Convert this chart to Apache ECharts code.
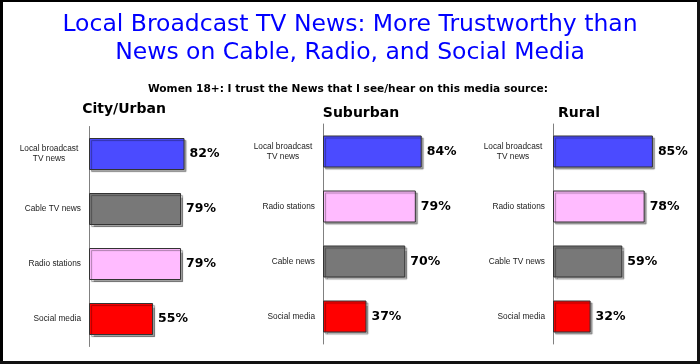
<!DOCTYPE html>
<html>
<head>
<meta charset="utf-8">
<script src="https://cdn.jsdelivr.net/npm/echarts@6/dist/echarts.min.js"></script>
<style>
html,body{margin:0;padding:0;background:#fff;}
#chart{width:700px;height:364px;}
</style>
</head>
<body>
<div id="chart"></div>
<script>
// ---- data ----
const titleText = 'Local Broadcast TV News: More Trustworthy than\nNews on Cable, Radio, and Social Media';
const subtitleText = 'Women 18+: I trust the News that I see/hear on this media source:';
const panelNames = ['City/Urban', 'Suburban', 'Rural'];

const urbanCats = ['Local broadcast\nTV news', 'Cable TV news', 'Radio stations', 'Social media'];
const urbanVals = [82, 79, 79, 55];
const suburbanCats = ['Local broadcast\nTV news', 'Radio stations', 'Cable news', 'Social media'];
const suburbanVals = [84, 79, 70, 37];
const ruralCats = ['Local broadcast\nTV news', 'Radio stations', 'Cable TV news', 'Social media'];
const ruralVals = [85, 78, 59, 32];

// ---- styles ----
function colorFor(name) {
  if (name.indexOf('Local') === 0) return '#4b4bff';
  if (name.indexOf('Cable') === 0) return '#787878';
  if (name.indexOf('Radio') === 0) return '#ffbbff';
  return '#ff0000';
}
const panels = [
  { cats: urbanCats, vals: urbanVals, left: 89, top: 126.5, width: 116.5, titleX: 124, titleY: 109 },
  { cats: suburbanCats, vals: suburbanVals, left: 323, top: 124, width: 117.5, titleX: 361, titleY: 113.5 },
  { cats: ruralCats, vals: ruralVals, left: 553, top: 124, width: 117.5, titleX: 579, titleY: 113.5 }
];

const grids = [], xAxes = [], yAxes = [], series = [];
panels.forEach((p, i) => {
  grids.push({ left: p.left, top: p.top, width: p.width, height: 220, containLabel: false });
  xAxes.push({ type: 'value', gridIndex: i, min: 0, max: 100, show: false });
  yAxes.push({
    type: 'category', gridIndex: i, data: p.cats, inverse: true,
    axisLine: { show: true, lineStyle: { color: '#808080', width: 1 } },
    axisTick: { show: false },
    splitLine: { show: false },
    axisLabel: {
      margin: 8, color: '#222', fontFamily: 'Liberation Sans', fontSize: 8.3, lineHeight: 10,
      formatter: function (v) {
        if (v.indexOf('\n') >= 0) {
          return v.split('\n').map(s => '{m|' + s + '}').join('\n');
        }
        return v;
      },
      rich: { m: { width: 64, align: 'center', fontFamily: 'Liberation Sans', fontSize: 8.3, lineHeight: 10, color: '#222' } }
    }
  });
  series.push({
    type: 'bar', xAxisIndex: i, yAxisIndex: i, barWidth: 32,
    data: p.vals.map((v, k) => ({ value: v, itemStyle: { color: colorFor(p.cats[k]) } })),
    itemStyle: {
      borderColor: '#333', borderWidth: 1,
      shadowColor: 'rgba(0,0,0,0.35)', shadowOffsetX: 2, shadowOffsetY: 2, shadowBlur: 1
    },
    label: {
      show: true, position: 'right', distance: 5, formatter: '{c}%',
      fontFamily: 'DejaVu Sans', fontWeight: 'bold', fontSize: 12.5, color: '#000'
    },
    animation: false
  });
});

const graphics = [
  { type: 'rect', shape: { x: 0, y: 0, width: 3, height: 364 }, style: { fill: '#000' }, z: 100 },
  { type: 'rect', shape: { x: 0, y: 0, width: 700, height: 2 }, style: { fill: '#000' }, z: 100 },
  { type: 'rect', shape: { x: 697, y: 0, width: 3, height: 364 }, style: { fill: '#111' }, z: 100 },
  { type: 'rect', shape: { x: 0, y: 361, width: 700, height: 3 }, style: { fill: '#111' }, z: 100 },
  { type: 'text', x: 348, y: 89, style: { text: subtitleText, font: 'bold 10.6px "DejaVu Sans"', fill: '#000', align: 'center', verticalAlign: 'middle', textAlign: 'center', textVerticalAlign: 'middle' } }
];
panels.forEach((p, i) => {
  graphics.push({ type: 'text', x: p.titleX, y: p.titleY, style: { text: panelNames[i], font: 'bold 14px "DejaVu Sans"', fill: '#000', align: 'center', verticalAlign: 'middle', textAlign: 'center', textVerticalAlign: 'middle' } });
});

const chart = echarts.init(document.getElementById('chart'), null, { renderer: 'canvas' });
chart.setOption({
  animation: false,
  backgroundColor: '#fff',
  title: {
    text: titleText, left: 'center', top: 11, padding: 0,
    textStyle: { fontFamily: 'DejaVu Sans', fontWeight: 'normal', fontSize: 23.5, lineHeight: 28, color: '#0000ff' }
  },
  grid: grids, xAxis: xAxes, yAxis: yAxes, series: series,
  graphic: graphics
});
</script>
</body>
</html>
